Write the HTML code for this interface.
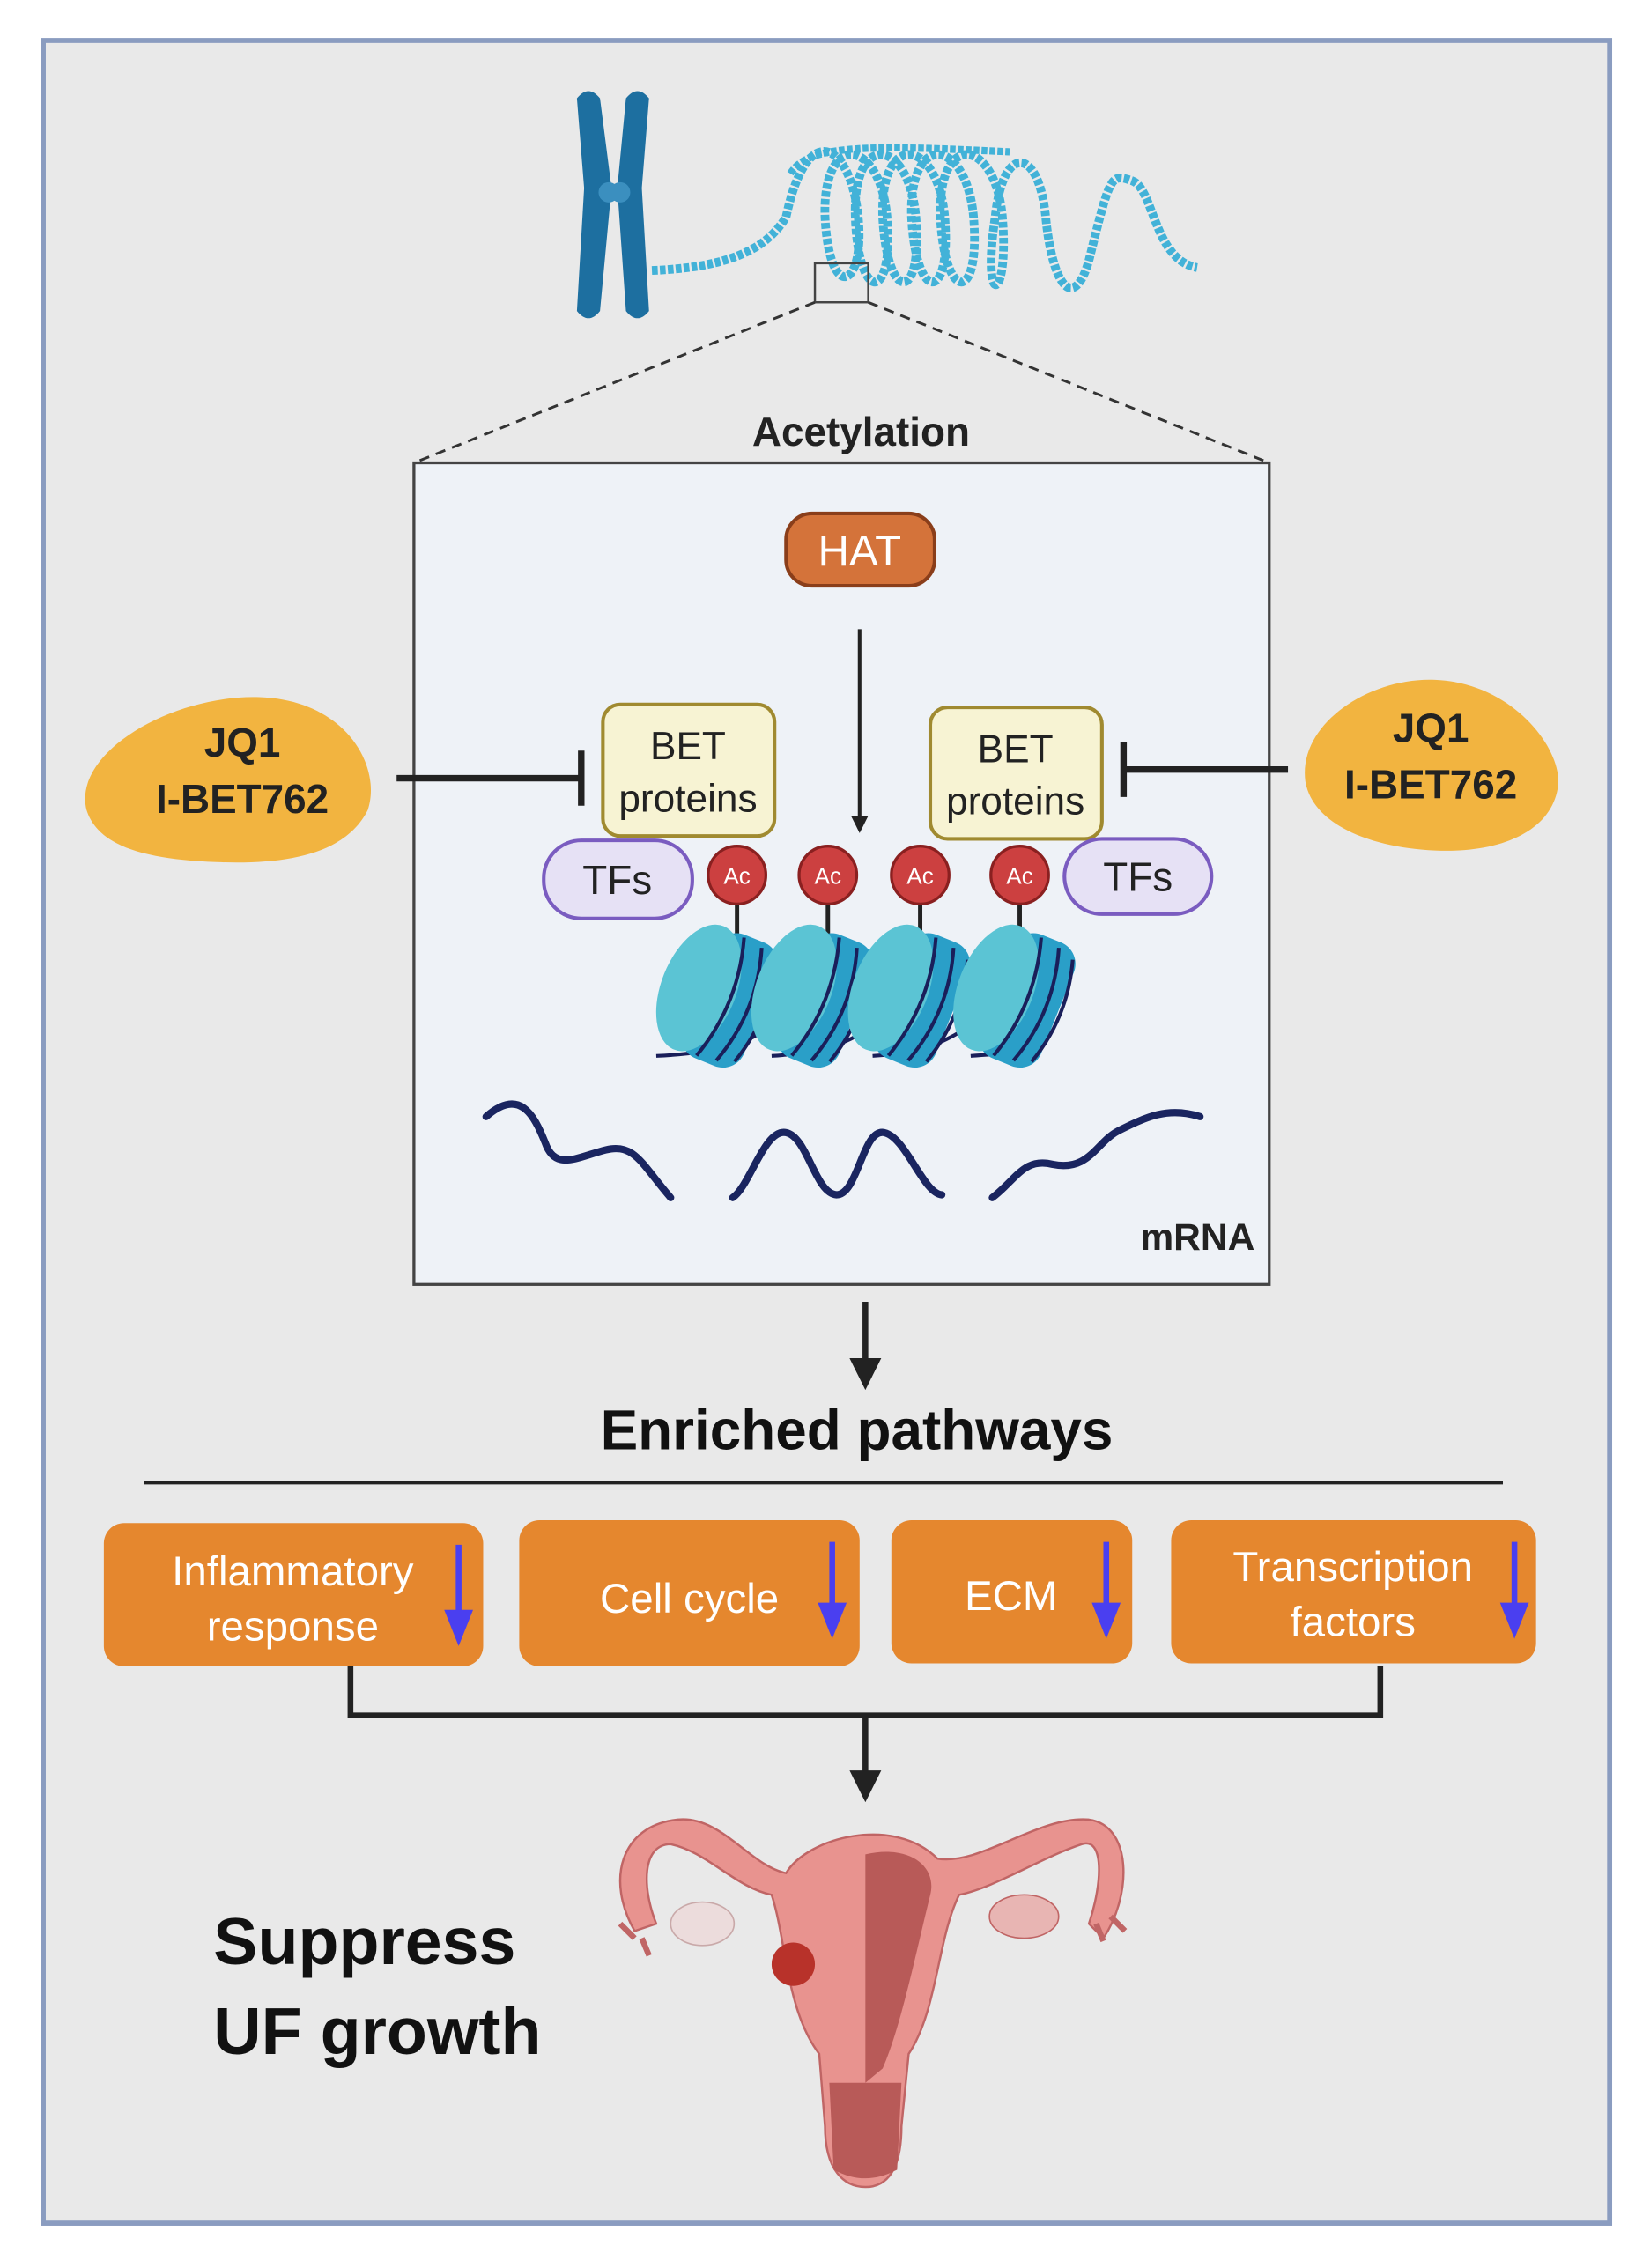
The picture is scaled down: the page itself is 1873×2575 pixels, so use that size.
<!DOCTYPE html>
<html><head><meta charset="utf-8"><style>
html,body{margin:0;padding:0;background:#fff;}
svg{display:block;}
text{font-family:"Liberation Sans",sans-serif;}
</style></head><body>
<svg width="1873" height="2575" viewBox="0 0 1144 1568" preserveAspectRatio="none" xmlns="http://www.w3.org/2000/svg">
<defs>
<marker id="ah" markerWidth="22" markerHeight="22" refX="11" refY="11" orient="auto" markerUnits="userSpaceOnUse" viewBox="0 0 22 22"><path d="M0,0 L22,11 L0,22 z" fill="#222"/></marker>
<marker id="ahs" markerWidth="12" markerHeight="12" refX="6" refY="6" orient="auto" markerUnits="userSpaceOnUse" viewBox="0 0 12 12"><path d="M0,0 L12,6 L0,12 z" fill="#222"/></marker>
<g id="nuc">
 <g transform="rotate(22)">
  <rect x="-8" y="-46" width="46" height="92" rx="16" fill="#2a9fc8"/>
  <ellipse cx="-8" cy="0" rx="26" ry="46" fill="#5bc4d4"/>
  <path d="M8,-44 Q22,0 8,44 M22,-42 Q36,0 22,42 M34,-38 Q46,0 34,38" stroke="#1a1f5a" stroke-width="2.5" fill="none"/>
 </g>
</g>
</defs>
<rect x="30" y="28" width="1086" height="1509" fill="#e9e9e9" stroke="#8a9cc0" stroke-width="3.5"/>
<!-- chromosome -->
<g fill="#1d6fa0">
 <path d="M400,68 Q408,58 416,68 L424,130 L416,215 Q408,225 400,215 L405,130 Z"/>
 <path d="M434,68 Q442,58 450,68 L445,130 L450,215 Q442,225 434,215 L428,130 Z"/>
 <circle cx="422" cy="133" r="7" fill="#3b8fbf"/><circle cx="430" cy="133" r="7" fill="#3b8fbf"/>
</g>
<!-- coil -->
<g fill="none" stroke="#42b2d8" stroke-width="6" stroke-dasharray="4 1.5">
 <path d="M452,187 C500,185 530,175 545,150"/>
 <path d="M545,150 C560,80 590,100 595,150 C600,200 575,210 572,150 C570,90 610,95 615,150 C620,210 595,210 593,150 C591,90 630,95 635,150 C640,210 615,210 612,150 C610,90 650,95 655,150 C660,210 635,210 632,150 C630,90 670,95 675,150 C680,210 655,210 652,150 C650,90 690,95 695,150 C700,210 680,215 690,150 C695,100 720,100 725,150 C730,200 745,215 755,180 C770,120 770,120 785,125 C800,130 800,180 830,185"/>
 <path d="M548,120 C560,100 600,100 700,105" stroke-width="5"/>
</g>
<rect x="565" y="182" width="37" height="27" fill="none" stroke="#444" stroke-width="1.5"/>
<line x1="565" y1="209" x2="287" y2="320" stroke="#333" stroke-width="1.8" stroke-dasharray="7 5"/>
<line x1="602" y1="209" x2="880" y2="320" stroke="#333" stroke-width="1.8" stroke-dasharray="7 5"/>
<text x="597" y="308" font-size="28" font-weight="bold" text-anchor="middle" fill="#222">Acetylation</text>
<rect x="287" y="320" width="593" height="568" fill="#eef2f7" stroke="#444" stroke-width="2"/>
<!-- HAT -->
<rect x="545" y="355" width="103" height="50" rx="18" fill="#d4733a" stroke="#8a3e1a" stroke-width="2.5"/>
<text x="596" y="391" font-size="30" text-anchor="middle" fill="#fff">HAT</text>
<line x1="596" y1="435" x2="596" y2="570" stroke="#222" stroke-width="2.5" marker-end="url(#ahs)"/>
<!-- JQ1 blobs -->
<path d="M60,560 C50,520 120,480 180,482 C240,484 265,530 255,560 C240,590 200,598 150,596 C100,594 68,585 60,560 Z" fill="#f2b440"/>
<text x="168" y="523" font-size="28" font-weight="bold" text-anchor="middle" fill="#222">JQ1</text>
<text x="168" y="562" font-size="28" font-weight="bold" text-anchor="middle" fill="#222">I-BET762</text>
<path d="M905,540 C900,500 950,468 995,470 C1050,472 1085,520 1080,545 C1075,575 1040,590 995,588 C950,586 910,570 905,540 Z" fill="#f2b440"/>
<text x="992" y="513" font-size="28" font-weight="bold" text-anchor="middle" fill="#222">JQ1</text>
<text x="992" y="552" font-size="28" font-weight="bold" text-anchor="middle" fill="#222">I-BET762</text>
<g stroke="#222" stroke-width="4.5">
 <line x1="275" y1="538" x2="403" y2="538"/><line x1="403" y1="519" x2="403" y2="557"/>
 <line x1="893" y1="532" x2="779" y2="532"/><line x1="779" y1="513" x2="779" y2="551"/>
</g>
<!-- BET -->
<rect x="418" y="487" width="119" height="91" rx="12" fill="#f7f3d3" stroke="#a08a30" stroke-width="2.5"/>
<text x="477" y="525" font-size="27" text-anchor="middle" fill="#222">BET</text>
<text x="477" y="561" font-size="27" text-anchor="middle" fill="#222">proteins</text>
<rect x="645" y="489" width="119" height="91" rx="12" fill="#f7f3d3" stroke="#a08a30" stroke-width="2.5"/>
<text x="704" y="527" font-size="27" text-anchor="middle" fill="#222">BET</text>
<text x="704" y="563" font-size="27" text-anchor="middle" fill="#222">proteins</text>
<!-- TFs -->
<rect x="377" y="581" width="103" height="54" rx="26" fill="#e6e1f5" stroke="#7a5cc0" stroke-width="2.5"/>
<text x="428" y="618" font-size="28" text-anchor="middle" fill="#222">TFs</text>
<rect x="738" y="580" width="102" height="52" rx="26" fill="#e6e1f5" stroke="#7a5cc0" stroke-width="2.5"/>
<text x="789" y="616" font-size="28" text-anchor="middle" fill="#222">TFs</text>
<!-- Ac -->
<g stroke="#222" stroke-width="3">
 <line x1="511" y1="620" x2="511" y2="655"/><line x1="574" y1="620" x2="574" y2="655"/>
 <line x1="638" y1="620" x2="638" y2="655"/><line x1="707" y1="620" x2="707" y2="655"/>
</g>
<path d="M455,730 C500,728 520,720 530,712 M535,730 C570,728 590,720 600,712 M605,730 C640,728 655,720 668,712 M673,730 C700,728 712,728 715,730" stroke="#1a1f5a" stroke-width="2.5" fill="none"/>
<use href="#nuc" x="492" y="686"/>
<use href="#nuc" x="558" y="686"/>
<use href="#nuc" x="625" y="686"/>
<use href="#nuc" x="698" y="686"/>
<g fill="#cc4040" stroke="#8a2020" stroke-width="2">
 <circle cx="511" cy="605" r="20"/><circle cx="574" cy="605" r="20"/><circle cx="638" cy="605" r="20"/><circle cx="707" cy="605" r="20"/>
</g>
<g font-size="16" fill="#fff" text-anchor="middle">
 <text x="511" y="611">Ac</text><text x="574" y="611">Ac</text><text x="638" y="611">Ac</text><text x="707" y="611">Ac</text>
</g>
<!-- mRNA -->
<g fill="none" stroke="#1a2560" stroke-width="5" stroke-linecap="round">
 <path d="M337,772 C360,752 370,770 378,790 C385,810 400,800 420,795 C440,790 445,805 465,828"/>
 <path d="M508,828 C520,820 530,780 545,783 C560,786 565,825 580,826 C595,826 598,780 613,783 C628,786 640,825 653,826"/>
 <path d="M688,828 C705,815 710,800 730,805 C755,810 760,790 775,782 C795,772 810,765 832,772"/>
</g>
<text x="870" y="864" font-size="26" font-weight="bold" text-anchor="end" fill="#222">mRNA</text>
<line x1="600" y1="900" x2="600" y2="950" stroke="#222" stroke-width="4" marker-end="url(#ah)"/>
<text x="594" y="1002" font-size="39" font-weight="bold" text-anchor="middle" fill="#111">Enriched pathways</text>
<line x1="100" y1="1025" x2="1042" y2="1025" stroke="#222" stroke-width="2.5"/>
<!-- orange boxes -->
<g fill="#e5872e">
 <rect x="72" y="1053" width="263" height="99" rx="14"/>
 <rect x="360" y="1051" width="236" height="101" rx="14"/>
 <rect x="618" y="1051" width="167" height="99" rx="14"/>
 <rect x="812" y="1051" width="253" height="99" rx="14"/>
</g>
<g font-size="29" fill="#fff" text-anchor="middle">
 <text x="203" y="1096">Inflammatory</text><text x="203" y="1134">response</text>
 <text x="478" y="1115">Cell cycle</text>
 <text x="701" y="1113">ECM</text>
 <text x="938" y="1093">Transcription</text><text x="938" y="1131">factors</text>
</g>
<g stroke="#4a3ff0" stroke-width="4" fill="#4a3ff0">
 <line x1="318" y1="1068" x2="318" y2="1115"/><path d="M308,1113 L328,1113 L318,1138 Z" stroke="none"/>
 <line x1="577" y1="1066" x2="577" y2="1110"/><path d="M567,1108 L587,1108 L577,1133 Z" stroke="none"/>
 <line x1="767" y1="1066" x2="767" y2="1110"/><path d="M757,1108 L777,1108 L767,1133 Z" stroke="none"/>
 <line x1="1050" y1="1066" x2="1050" y2="1110"/><path d="M1040,1108 L1060,1108 L1050,1133 Z" stroke="none"/>
</g>
<path d="M243,1152 L243,1186 L957,1186 L957,1152" fill="none" stroke="#222" stroke-width="4"/>
<line x1="600" y1="1186" x2="600" y2="1235" stroke="#222" stroke-width="4" marker-end="url(#ah)"/>
<!-- uterus -->
<g>
 <path d="M440,1335 C420,1300 430,1262 470,1258 C500,1255 520,1290 545,1295 C560,1270 620,1255 650,1285 C680,1290 720,1255 755,1258 C785,1262 785,1310 765,1340 L755,1330 C765,1300 765,1270 750,1275 C720,1285 690,1305 665,1310 C650,1340 650,1390 630,1420 L625,1470 C625,1500 615,1512 600,1512 C585,1512 572,1500 572,1470 L568,1420 C545,1390 545,1340 535,1310 C510,1305 490,1280 465,1275 C445,1275 445,1305 455,1330 Z" fill="#e8938f" stroke="#c06565" stroke-width="1.5"/>
 <path d="M600,1282 C630,1275 650,1290 645,1310 C635,1350 625,1400 612,1430 L600,1440 Z" fill="#b85a58"/>
 <path d="M575,1440 L625,1440 L622,1500 Q600,1512 578,1500 Z" fill="#b85a58"/>
 <ellipse cx="487" cy="1330" rx="22" ry="15" fill="#ecdcdc" stroke="#c9a9a9"/>
 <ellipse cx="710" cy="1325" rx="24" ry="15" fill="#e8b5b3" stroke="#c06565"/>
 <circle cx="550" cy="1358" r="15" fill="#b8322a"/>
 <path d="M430,1330 l10,10 M445,1340 l5,12 M760,1330 l5,12 M770,1325 l10,10" stroke="#c06565" stroke-width="4"/>
</g>
<text x="148" y="1358" font-size="46" font-weight="bold" fill="#111">Suppress</text>
<text x="148" y="1420" font-size="46" font-weight="bold" fill="#111">UF growth</text>
</svg>
</body></html>
